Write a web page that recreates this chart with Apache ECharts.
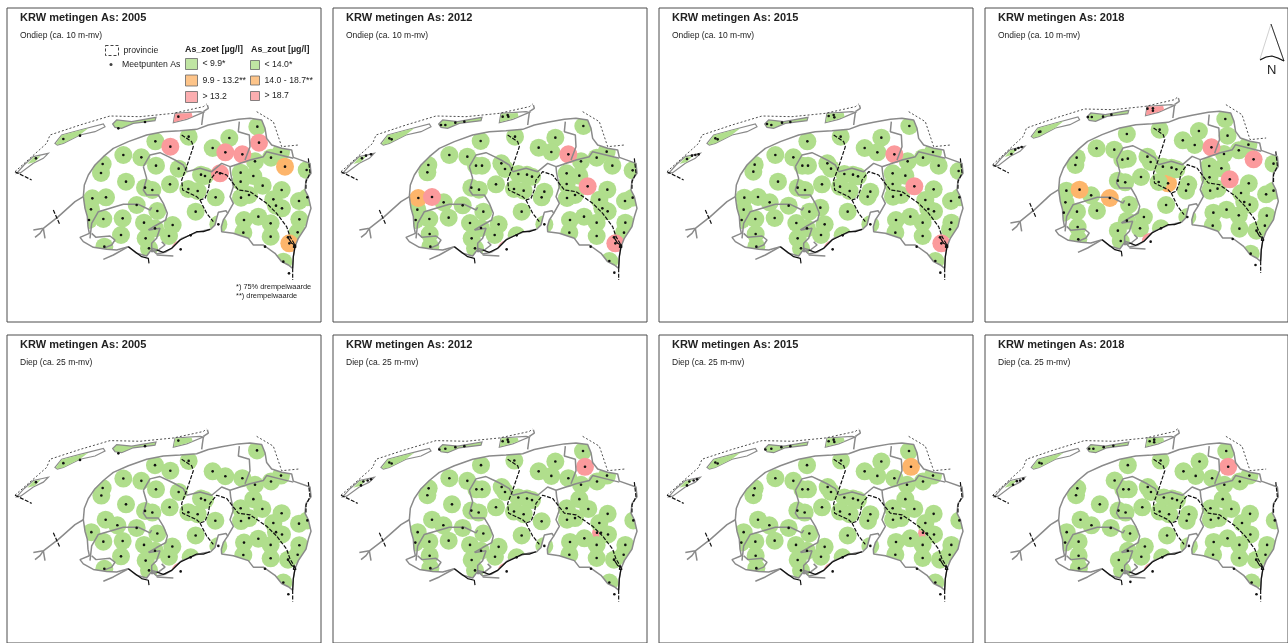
<!DOCTYPE html>
<html><head><meta charset="utf-8">
<style>html,body{margin:0;padding:0;background:#fff;overflow:hidden}#c{width:1288px;height:643px}</style>
<script src="https://cdn.jsdelivr.net/npm/echarts@6/dist/echarts.min.js"></script>
</head><body><div id="c"></div>
<script>
// category code: 0 = below 75% threshold, 1 = between, 2 = above, -1 = measuring point only
const titles = ['KRW metingen As: 2005','KRW metingen As: 2012','KRW metingen As: 2015','KRW metingen As: 2018','KRW metingen As: 2005','KRW metingen As: 2012','KRW metingen As: 2015','KRW metingen As: 2018'];
const subtitles = ['Ondiep (ca. 10 m-mv)','Ondiep (ca. 10 m-mv)','Ondiep (ca. 10 m-mv)','Ondiep (ca. 10 m-mv)','Diep (ca. 25 m-mv)','Diep (ca. 25 m-mv)','Diep (ca. 25 m-mv)','Diep (ca. 25 m-mv)'];
const zoetLabels = ['< 9.9*','9.9 - 13.2**','> 13.2'];
const zoutLabels = ['< 14.0*','14.0 - 18.7**','> 18.7'];
const classColors = ['#B0DE8C','#FDB56B','#FB9A9C'];

const ondiep2005 = [[772,380,0],[566,410,0],[688,414,0],[466,424,0],[638,444,0],[370,465,0],[424,472,0],[843,456,0],[765,484,0],[813,473,0],[308,492,0],[303,519,0],[468,497,0],[536,506,0],[603,524,0],[615,528,0],[920,510,0],[722,518,0],[760,528,0],[378,545,0],[435,563,0],[457,570,0],[510,553,0],[565,567,0],[593,573,0],[722,545,0],[788,557,0],[647,592,0],[845,570,0],[277,595,0],[318,592,0],[410,615,0],[723,593,0],[747,585,0],[820,598,0],[897,603,0],[922,592,0],[273,628,0],[472,633,0],[587,635,0],[828,617,0],[846,625,0],[267,660,0],[310,657,0],[368,655,0],[432,668,0],[518,675,0],[732,660,0],[775,650,0],[812,670,0],[898,658,0],[893,697,0],[363,705,0],[465,685,0],[507,708,0],[437,715,0],[730,698,0],[812,710,0],[313,740,0],[447,745,0],[850,785,0],[655,673,0],[511,440,2],[777,428,2],[676,457,2],[727,463,2],[660,520,2],[542,748,2],[855,500,1],[868,730,1],[572,706,-1],[795,740,-1],[867,820,-1],[864,712,-1],[885,737,-1]];
const ondiep2012 = [[772,378,0],[567,410,0],[688,413,0],[464,423,0],[638,443,0],[676,456,0],[370,465,0],[424,470,0],[842,455,0],[812,473,0],[765,484,0],[859,497,0],[307,495,0],[304,517,0],[450,497,0],[468,497,0],[526,490,0],[537,507,0],[577,522,0],[603,524,0],[618,530,0],[920,511,0],[722,520,0],[760,527,0],[510,553,0],[436,563,0],[459,569,0],[564,567,0],[593,572,0],[655,575,0],[647,592,0],[722,552,0],[844,569,0],[820,599,0],[897,603,0],[920,593,0],[747,585,0],[723,594,0],[353,607,0],[410,616,0],[274,629,0],[472,635,0],[587,635,0],[829,625,0],[845,634,0],[269,660,0],[310,657,0],[368,653,0],[432,669,0],[518,673,0],[732,660,0],[774,650,0],[812,668,0],[898,668,0],[894,698,0],[311,702,0],[465,684,0],[506,705,0],[437,715,0],[730,698,0],[812,708,0],[313,740,0],[447,745,0],[850,783,0],[572,706,0],[655,673,0],[277,594,1],[318,591,2],[727,463,2],[785,559,2],[868,730,2],[542,748,2],[794,740,-1],[865,818,-1],[864,712,-1],[885,737,-1]];
const ondiep2015 = [[772,378,0],[566,410,0],[688,413,0],[466,424,0],[638,444,0],[676,457,0],[370,465,0],[424,472,0],[843,456,0],[813,473,0],[767,484,0],[860,497,0],[308,494,0],[304,515,0],[451,497,0],[468,497,0],[526,490,0],[537,506,0],[577,522,0],[603,524,0],[618,529,0],[920,513,0],[722,520,0],[760,527,0],[378,545,0],[437,563,0],[459,570,0],[510,553,0],[564,560,0],[593,573,0],[655,575,0],[647,590,0],[722,552,0],[845,568,0],[820,600,0],[897,603,0],[922,592,0],[747,585,0],[723,590,0],[277,593,0],[318,591,0],[353,607,0],[410,617,0],[275,629,0],[472,635,0],[505,623,0],[587,635,0],[829,627,0],[846,634,0],[269,660,0],[310,657,0],[368,654,0],[433,669,0],[518,673,0],[732,660,0],[775,650,0],[812,668,0],[898,668,0],[894,688,0],[311,702,0],[465,685,0],[507,705,0],[437,715,0],[730,698,0],[812,708,0],[313,740,0],[447,745,0],[850,783,0],[572,706,0],[655,673,0],[727,463,2],[787,559,2],[868,730,2],[542,748,2],[794,740,-1],[865,818,-1],[864,712,-1],[885,737,-1]];
const ondiep2018 = [[590,571,1],[768,378,0],[564,410,0],[686,414,0],[462,423,0],[636,442,0],[673,456,0],[840,455,0],[810,472,0],[764,483,0],[368,466,0],[423,470,0],[306,494,0],[302,516,0],[448,500,0],[465,497,0],[526,491,0],[536,507,0],[574,521,0],[601,524,0],[616,529,0],[918,512,0],[718,519,0],[756,526,0],[506,552,0],[434,563,0],[457,568,0],[561,567,0],[653,574,0],[646,593,0],[719,553,0],[841,571,0],[817,600,0],[895,604,0],[918,593,0],[744,587,0],[721,593,0],[274,593,0],[351,607,0],[271,628,0],[469,635,0],[584,636,0],[827,627,0],[844,635,0],[266,659,0],[307,656,0],[369,653,0],[515,672,0],[731,659,0],[772,650,0],[810,667,0],[897,668,0],[891,698,0],[309,702,0],[462,683,0],[503,706,0],[434,713,0],[729,698,0],[812,707,0],[865,713,0],[311,739,0],[443,744,0],[847,782,0],[568,706,0],[650,672,0],[775,428,0],[315,590,1],[409,615,1],[725,463,2],[856,499,2],[782,559,2],[536,746,2],[791,738,-1],[862,816,-1]];
const diep2005 = [[771,378,0],[566,410,0],[465,423,0],[511,440,0],[638,442,0],[676,457,0],[727,463,0],[370,464,0],[424,471,0],[843,455,0],[813,473,0],[765,483,0],[308,493,0],[304,516,0],[468,497,0],[536,505,0],[603,525,0],[615,530,0],[760,527,0],[722,555,0],[378,543,0],[435,563,0],[457,568,0],[509,552,0],[565,567,0],[593,573,0],[787,557,0],[845,570,0],[820,600,0],[897,602,0],[922,592,0],[747,585,0],[723,594,0],[317,590,0],[352,607,0],[410,615,0],[274,628,0],[472,632,0],[587,638,0],[828,628,0],[846,635,0],[310,657,0],[368,655,0],[432,667,0],[517,672,0],[732,660,0],[775,648,0],[812,667,0],[898,668,0],[893,697,0],[363,702,0],[465,685,0],[507,703,0],[437,715,0],[730,698,0],[812,708,0],[864,712,0],[313,740,0],[447,745,0],[850,782,0],[572,705,0],[655,670,0],[542,748,2],[646,593,0],[795,740,-1],[865,818,-1]];
const diep2012 = [[825,630,2],[771,380,0],[565,409,0],[688,412,0],[465,423,0],[638,442,0],[676,456,0],[727,463,0],[370,463,0],[424,471,0],[843,455,0],[813,473,0],[765,483,0],[308,494,0],[304,515,0],[451,497,0],[468,497,0],[527,490,0],[537,505,0],[577,522,0],[603,525,0],[618,530,0],[760,527,0],[722,555,0],[378,543,0],[436,562,0],[458,568,0],[510,552,0],[564,565,0],[593,573,0],[647,595,0],[787,557,0],[845,572,0],[820,600,0],[922,592,0],[747,585,0],[723,590,0],[318,590,0],[352,607,0],[410,615,0],[275,628,0],[472,632,0],[587,638,0],[846,635,0],[268,660,0],[310,657,0],[368,654,0],[432,667,0],[518,673,0],[732,658,0],[775,647,0],[812,667,0],[898,667,0],[893,697,0],[311,700,0],[465,685,0],[507,703,0],[437,713,0],[730,697,0],[812,707,0],[864,712,0],[313,738,0],[447,745,0],[850,782,0],[572,705,0],[655,670,0],[777,428,2],[542,748,2],[813,630,-1],[795,740,-1],[865,818,-1]];
const diep2015 = [[825,632,2],[771,380,0],[567,409,0],[688,412,0],[465,423,0],[638,442,0],[676,456,0],[727,463,0],[370,463,0],[424,471,0],[843,455,0],[813,473,0],[765,483,0],[308,494,0],[304,515,0],[451,497,0],[468,497,0],[527,490,0],[537,505,0],[577,522,0],[603,525,0],[618,530,0],[760,527,0],[722,555,0],[436,562,0],[458,568,0],[510,552,0],[564,565,0],[593,573,0],[655,573,0],[648,593,0],[787,557,0],[845,572,0],[820,600,0],[922,592,0],[747,585,0],[723,590,0],[318,590,0],[352,607,0],[410,615,0],[275,628,0],[472,632,0],[587,638,0],[846,635,0],[268,660,0],[310,657,0],[368,654,0],[432,667,0],[518,673,0],[732,658,0],[775,647,0],[812,667,0],[898,667,0],[893,697,0],[311,700,0],[465,685,0],[507,703,0],[437,713,0],[730,697,0],[812,707,0],[864,712,0],[313,738,0],[447,745,0],[850,782,0],[572,705,0],[655,670,0],[777,428,1],[542,748,2],[813,630,-1],[795,740,-1],[865,818,-1]];
const diep2018 = [[771,380,0],[567,409,0],[688,412,0],[465,423,0],[638,442,0],[676,456,0],[727,463,0],[424,470,0],[843,455,0],[813,473,0],[765,483,0],[308,494,0],[304,515,0],[451,497,0],[468,497,0],[527,490,0],[537,505,0],[577,522,0],[603,525,0],[618,530,0],[760,527,0],[722,555,0],[378,543,0],[436,562,0],[458,568,0],[510,552,0],[564,565,0],[593,573,0],[655,573,0],[648,593,0],[787,557,0],[845,572,0],[820,600,0],[922,592,0],[747,585,0],[723,590,0],[318,590,0],[352,607,0],[412,615,0],[275,628,0],[472,632,0],[587,638,0],[846,635,0],[270,660,0],[312,657,0],[518,672,0],[732,658,0],[775,647,0],[812,667,0],[898,667,0],[893,697,0],[312,700,0],[465,685,0],[507,703,0],[437,713,0],[730,697,0],[812,707,0],[864,712,0],[313,738,0],[447,745,0],[850,782,0],[572,705,0],[655,670,0],[777,428,2],[542,748,2],[795,740,-1],[865,818,-1],[473,780,-1]];
const panelPoints = [ondiep2005,ondiep2012,ondiep2015,ondiep2018,diep2005,diep2012,diep2015,diep2018];

const islandDots2005a = [[108,475],[190,417],[240,407],[355,385],[435,366],[535,350]];
const islandDots2012a = [[108,475],[120,467],[135,463],[190,415],[197,418],[345,375],[358,375],[388,368],[415,365],[530,350],[545,345],[547,350]];
const islandDots2015a = [[105,477],[120,467],[130,465],[140,463],[190,415],[197,418],[345,372],[358,375],[390,368],[415,366],[530,348],[545,345],[547,352]];
const islandDots2018a = [[103,483],[115,470],[125,465],[135,462],[189,417],[193,416],[341,372],[353,372],[388,371],[414,365],[526,347],[543,346],[543,353]];
const islandDots2005b = [[108,475],[190,417],[240,407],[355,387],[435,365],[535,348]];
const islandDots2012b = [[105,485],[112,473],[125,470],[135,466],[190,415],[197,418],[340,375],[358,373],[388,368],[415,365],[530,350],[545,345],[547,352]];
const islandDots2018b = [[108,483],[120,472],[130,470],[140,465],[190,416],[197,418],[345,373],[358,373],[390,368],[420,364],[533,350],[547,345],[547,353]];
const panelIslandDots = [islandDots2005a,islandDots2012a,islandDots2015a,islandDots2018a,islandDots2005b,islandDots2012b,islandDots2012b,islandDots2018b];
const schierClass = [2,0,0,2,0,0,0,0];

const landOutline = [[250,590],[253,555],[265,525],[285,495],[310,470],[340,445],[385,425],[440,405],[490,395],[540,392],[590,388],[625,375],[665,367],[715,358],[750,355],[785,360],[795,385],[800,415],[815,435],[845,445],[875,450],[880,472],[930,490],[933,520],[918,540],[915,570],[925,590],[933,625],[925,650],[918,680],[895,715],[885,740],[880,770],[878,805],[865,795],[845,785],[825,760],[790,735],[760,735],[745,715],[700,700],[665,695],[664,680],[670,660],[683,640],[678,632],[655,637],[650,655],[645,675],[632,688],[610,692],[590,697],[568,706],[545,715],[515,745],[495,757],[470,762],[455,748],[440,768],[410,760],[385,740],[350,750],[320,748],[280,742],[250,725],[240,712],[268,700],[264,680],[262,650],[255,625]];
const vlieland = [[50,520],[72,495],[100,470],[145,460],[130,475],[100,490],[62,518]];
const vlielandGreen = [[82,492],[100,472],[122,468],[105,486]];
const terschelling = [[165,430],[185,405],[240,390],[310,372],[315,380],[285,395],[240,405],[190,430],[172,435]];
const terschellingGreen = [[167,431],[185,406],[240,391],[265,385],[240,404],[190,430],[172,434]];
const ameland = [[338,372],[350,360],[395,365],[468,352],[465,362],[400,370],[365,385],[345,382]];
const schier = [[520,368],[525,340],[600,335],[610,337],[560,358]];
const schierGreen = [[521,367],[526,341],[575,339],[578,350],[558,357]];

const grayLines = [
 [[250,590],[225,605],[175,650],[130,685],[100,690]],[[130,685],[120,700],[105,712]],[[130,685],[135,715]],
 [[610,335],[625,325],[622,315]],[[610,337],[605,375]],
 [[430,500],[450,465],[480,458],[505,470],[525,480],[550,495],[560,515]],
 [[430,500],[440,535],[430,570],[440,585],[475,585],[490,610],[502,640],[497,660],[470,675],[445,690]],
 [[447,690],[480,685],[470,715],[455,730],[455,755],[475,750],[495,735],[485,725]],
 [[270,715],[275,670],[295,635],[370,613],[415,613],[450,630],[455,622]],
 [[275,700],[288,712],[330,708],[345,720],[335,735],[310,745]],
 [[560,515],[600,505],[635,515],[665,490],[690,500],[750,480],[790,470],[800,455],[840,465],[880,475]],
 [[735,480],[750,440],[748,405],[715,395],[718,365]],
 [[690,500],[692,520],[700,560],[690,590],[700,610],[683,640]],
 [[310,778],[340,765],[385,740]],[[470,765],[520,768]],[[455,745],[480,752]]
];
const provinceSolid = [
 [[385,740],[405,755],[425,770],[445,775],[447,790]],
 [[470,750],[490,757],[515,745],[540,720],[570,705],[590,695],[610,695],[630,688]],
 [[864,712],[875,730],[885,735],[888,742],[880,742],[882,733]],
 [[885,740],[880,770],[878,805]]
];
const provinceDashed = [
 [[545,405],[575,425],[580,440],[570,470],[560,500],[545,540],[548,570],[590,590],[600,600],[615,595],[625,570],[630,540],[650,515],[680,525],[715,570],[750,575],[800,610],[830,640],[860,680],[870,710],[885,735]],
 [[600,600],[620,640],[640,665]],[[925,475],[930,520],[918,545],[918,570]],[[878,805],[878,840]],[[160,630],[180,675]],
 [[45,515],[95,540]]
];
const provinceDotted = [
 [[45,515],[140,430],[150,405],[240,375],[330,348],[420,350],[520,340],[610,320],[620,312]],
 [[770,335],[820,365],[845,440],[895,435]]
];

const panelGrid = [
 {left:0,top:0,x0:21,y0:24},{left:326,top:0,x0:21,y0:24},{left:652,top:0,x0:21,y0:24},{left:978,top:-7,x0:21,y0:45},
 {left:0,top:326.67,x0:21,y0:25},{left:326,top:326.67,x0:21,y0:25},{left:652,top:326.67,x0:21,y0:25},{left:978,top:326.67,x0:21,y0:25}
];
const maskRect = [[40,300],[958,300],[958,870],[40,870]];

function poly(points, fill, i, z, stroke){
  return {type:'custom',xAxisIndex:i,yAxisIndex:i,z,silent:true,clip:false,coordinateSystem:'cartesian2d',data:[[0,0]],
    renderItem:function(p,api){return {type:'polygon',shape:{points:points.map(q=>api.coord(q))},
      style:{fill:fill,stroke:stroke||null,lineWidth:stroke?1.2:0}};}};
}
function line(points,i,color,width,type,z){
  return {type:'line',xAxisIndex:i,yAxisIndex:i,z,silent:true,symbol:'none',data:points,clip:false,animation:false,
    lineStyle:{color,width,type}};
}
const maskPath = (function(){
  const r = landOutline.slice().reverse();
  return maskRect.concat([maskRect[0],landOutline[0]]).concat(r);
})();

const series=[], grid=[], xAxis=[], yAxis=[], title=[];
panelGrid.forEach(function(g,i){
  grid.push({left:g.left+g.x0/3,top:g.top+g.y0/3,width:314,height:314,show:true,backgroundColor:'#fff',borderColor:'#4d4d4d',borderWidth:1});
  xAxis.push({gridIndex:i,type:'value',min:g.x0,max:g.x0+942,show:false});
  yAxis.push({gridIndex:i,type:'value',inverse:true,min:g.y0,max:g.y0+942,show:false});
  const cl = 7+326*(i%4), tp = i<4?8:335;
  title.push({text:titles[i],left:cl+13,top:tp+4,padding:0,textStyle:{fontFamily:'Liberation Sans',fontSize:11,fontWeight:'bold',color:'#222'}});
  title.push({text:subtitles[i],left:cl+13,top:tp+23,padding:0,textStyle:{fontFamily:'Liberation Sans',fontSize:8.5,fontWeight:'normal',color:'#222'}});
  const pts = panelPoints[i];
  series.push({type:'scatter',xAxisIndex:i,yAxisIndex:i,z:2,silent:true,clip:false,animation:false,
    data:pts.filter(p=>p[2]>=0),symbolSize:18,itemStyle:{opacity:1,color:p=>classColors[p.value[2]]}});
  series.push(poly(maskPath,'#fff',i,3));
  series.push(poly(vlieland,'#fff',i,4,'#8a8a8a'));
  series.push(poly(vlielandGreen,classColors[0],i,4));
  series.push(poly(terschelling,'#fff',i,4,'#8a8a8a'));
  series.push(poly(terschellingGreen,classColors[0],i,4));
  series.push(poly(ameland,classColors[0],i,4,'#8a8a8a'));
  series.push(poly(schier,'#fff',i,4,'#8a8a8a'));
  series.push(poly(schierGreen,classColors[schierClass[i]],i,4));
  series.push(line(landOutline.concat([landOutline[0]]),i,'#8a8a8a',1.5,'solid',5));
  grayLines.forEach(l=>series.push(line(l,i,'#8a8a8a',1.5,'solid',5)));
  provinceSolid.forEach(l=>series.push(line(l,i,'#111',1.2,'solid',6)));
  provinceDashed.forEach(l=>series.push(line(l,i,'#111',1.2,[4,1.5],6)));
  provinceDotted.forEach(l=>series.push(line(l,i,'#222',0.8,[2,2],6)));
  series.push({type:'scatter',xAxisIndex:i,yAxisIndex:i,z:7,silent:true,clip:false,animation:false,symbolSize:2.6,
    itemStyle:{color:'#111',opacity:1},data:pts.map(p=>[p[0],p[1]]).concat(panelIslandDots[i])});
});
const legendItems = [['provincie','#fff'],['Meetpunten As','#111']].concat(zoetLabels.map((n,k)=>[n,classColors[k]]),zoutLabels.map((n,k)=>[n,classColors[k]]));
legendItems.forEach(it=>series.push({type:'scatter',name:it[0],xAxisIndex:0,yAxisIndex:0,data:[],itemStyle:{color:it[1]}}));

const legendText = {fontFamily:'Liberation Sans',fontSize:8.7,color:'#222'};
const swatch = {borderColor:'#666',borderWidth:1};
const legend = [
 {left:105,top:45,itemWidth:13,itemHeight:10,selectedMode:false,padding:0,textStyle:legendText,
  data:[{name:'provincie',icon:'rect',itemStyle:{color:'#fff',borderColor:'#111',borderWidth:1,borderType:[3,2]}}]},
 {left:109.5,top:60,itemWidth:3,itemHeight:3,selectedMode:false,padding:0,textStyle:Object.assign({},legendText,{padding:[0,0,0,4.5]}),
  data:[{name:'Meetpunten As',icon:'circle'}]},
 {left:185,top:58,orient:'vertical',itemWidth:12,itemHeight:11,itemGap:4.5,selectedMode:false,padding:0,textStyle:legendText,
  data:zoetLabels.map(n=>({name:n,icon:'rect',itemStyle:swatch}))},
 {left:250,top:60,orient:'vertical',itemWidth:9,itemHeight:9,itemGap:5.5,selectedMode:false,padding:0,textStyle:legendText,
  data:zoutLabels.map(n=>({name:n,icon:'rect',itemStyle:swatch}))}
];
const headStyle = {fontFamily:'Liberation Sans',fontSize:8.9,fontWeight:'bold',color:'#222'};
title.push({text:'As_zoet [µg/l]',left:185,top:45.5,padding:0,textStyle:headStyle});
title.push({text:'As_zout [µg/l]',left:251,top:45.5,padding:0,textStyle:headStyle});
const noteStyle = {fontFamily:'Liberation Sans',fontSize:7.4,fontWeight:'normal',color:'#222'};
title.push({text:'*) 75% drempelwaarde',left:236,top:283,padding:0,textStyle:noteStyle});
title.push({text:'**) drempelwaarde',left:236,top:292,padding:0,textStyle:noteStyle});

const graphic = [
 {type:'polygon',shape:{points:[[1271,24],[1260,59],[1271.5,56],[1284,61]]},style:{fill:'#fff',stroke:'#bbb',lineWidth:0.7},z:20},
 {type:'polyline',shape:{points:[[1271,24],[1284,61]]},style:{stroke:'#222',lineWidth:0.9,fill:null},z:21},
 {type:'polyline',shape:{points:[[1260,60],[1266,57],[1272,56],[1278,58],[1284,61]]},style:{stroke:'#111',lineWidth:1.2,fill:null},z:21},
 {type:'text',x:1267,y:64,style:{text:'N',font:'13px "Liberation Sans"',fill:'#222'},z:21}
];

const chart = echarts.init(document.getElementById('c'),null,{renderer:'canvas'});
chart.setOption({animation:false,backgroundColor:'#fff',grid,xAxis,yAxis,title,legend,series,graphic,tooltip:{show:false}});
</script></body></html>
